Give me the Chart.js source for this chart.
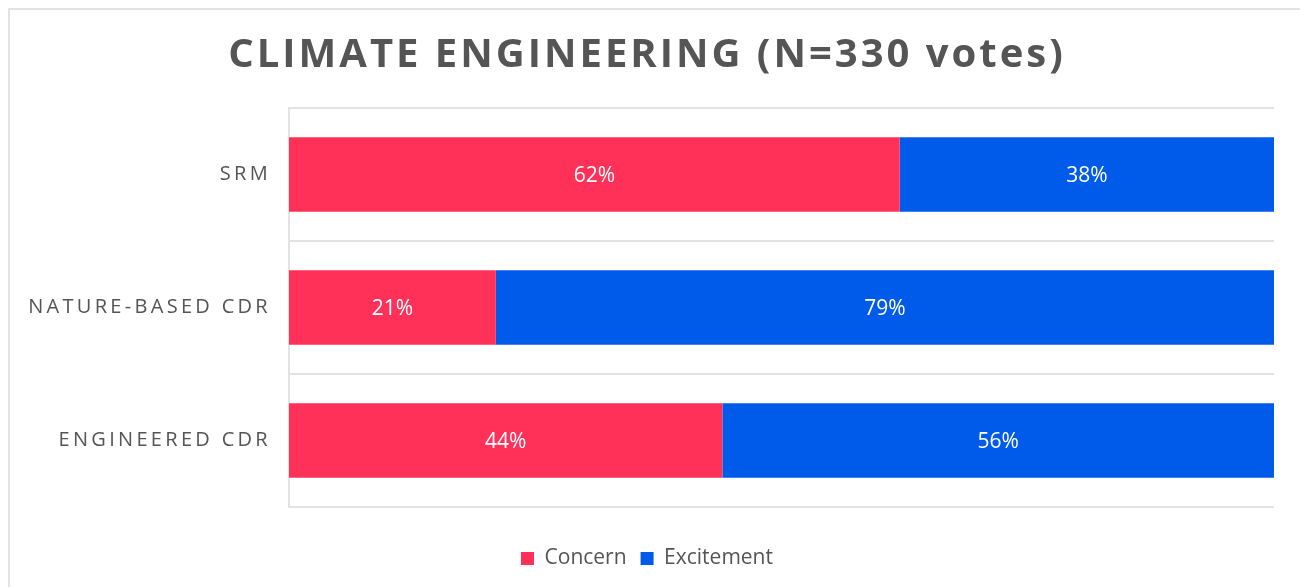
<!DOCTYPE html>
<html>
<head>
<meta charset="utf-8">
<script src="https://cdn.jsdelivr.net/npm/chart.js@4"></script>
<style>
 html, body { margin: 0; padding: 0; background: #fff; }
 #wrap { position: relative; width: 1300px; height: 587px; overflow: hidden; }
 #frame { position: absolute; left: 8px; top: 8px; width: 1320px; height: 600px; border: 2px solid #e3e3e3; }
 #box { position: absolute; left: 0; top: 0; width: 1300px; height: 587px; }
</style>
</head>
<body>
<div id="wrap">
 <div id="frame"></div>
 <div id="box"><canvas id="chart"></canvas></div>
</div>
<script>
// chart data
const categories = ['SRM', 'NATURE-BASED CDR', 'ENGINEERED CDR'];
const concern = [62, 21, 44];
const excitement = [38, 79, 56];
const titleText = 'CLIMATE ENGINEERING (N=330 votes)';

const textColor = '#555555';
const fontFamily = "'Open Sans', 'DejaVu Sans', sans-serif";

// draws the % numbers in the middle of each segment
const valueLabels = {
 id: 'valueLabels',
 afterDatasetsDraw(chart) {
   const ctx = chart.ctx;
   ctx.save();
   ctx.fillStyle = '#ffffff';
   ctx.font = `21px ${fontFamily}`;
   ctx.textAlign = 'center';
   ctx.textBaseline = 'middle';
   chart.data.datasets.forEach((ds, di) => {
     const meta = chart.getDatasetMeta(di);
     meta.data.forEach((bar, i) => {
       const x = (bar.x + bar.base) / 2;
       ctx.fillText(`${ds.data[i]}%`, x, bar.y + 2);
     });
   });
   ctx.restore();
 }
};

// letter spacing for the category ticks and the title
const spacing = {
 id: 'spacing',
 beforeDraw(chart) {
   const y = chart.scales.y;
   if (y && !y._spaced) {
     const orig = y.drawLabels;
     y.drawLabels = function (area) {
       this.ctx.save();
       this.ctx.letterSpacing = '3.3px';
       orig.call(this, area);
       this.ctx.restore();
     };
     y._spaced = true;
   }
   const t = chart.titleBlock;
   if (t && !t._spaced) {
     const origT = t.draw;
     t.draw = function () {
       this.ctx.save();
       this.ctx.letterSpacing = '3px';
       origT.call(this);
       this.ctx.restore();
     };
     t._spaced = true;
   }
 }
};

new Chart(document.getElementById('chart'), {
 type: 'bar',
 data: {
   labels: categories,
   datasets: [
     { label: 'Concern', data: concern, backgroundColor: '#ff3158', borderWidth: 0 },
     { label: 'Excitement', data: excitement, backgroundColor: '#005beb', borderWidth: 0 }
   ]
 },
 options: {
   indexAxis: 'y',
   responsive: true,
   maintainAspectRatio: false,
   animation: false,
   layout: { padding: { left: 20, right: 26, top: 0, bottom: 8 } },
   datasets: { bar: { barPercentage: 0.56, categoryPercentage: 1 } },
   scales: {
     x: {
       stacked: true,
       min: 0,
       max: 100,
       grid: { display: false },
       border: { display: false },
       ticks: { display: false },
       afterFit(scale) { scale.height = 27; }
     },
     y: {
       stacked: true,
       grid: { color: '#e3e3e3', lineWidth: 2, drawTicks: false },
       border: { color: '#e3e3e3', width: 2 },
       ticks: { color: textColor, font: { family: fontFamily, size: 20 }, padding: 18 },
       afterFit(scale) { scale.width = 269; }
     }
   },
   plugins: {
     title: {
       display: true,
       text: titleText,
       color: textColor,
       font: { family: fontFamily, size: 40, weight: 'bold' },
       padding: { top: 32, bottom: 28 }
     },
     legend: {
       position: 'bottom',
       labels: {
         color: textColor,
         font: { family: fontFamily, size: 21 },
         boxWidth: 13,
         boxHeight: 13,
         padding: 14
       }
     },
     tooltip: { enabled: false }
   }
 },
 plugins: [valueLabels, spacing]
});
</script>
</body>
</html>
